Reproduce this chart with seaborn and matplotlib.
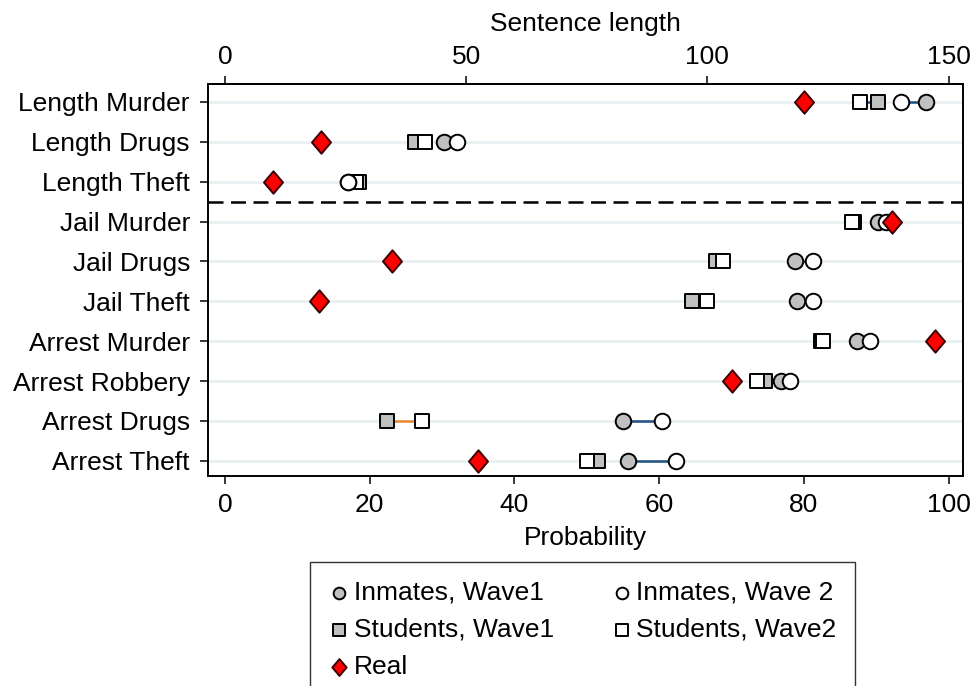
import numpy as np
import pandas as pd
import matplotlib
matplotlib.use("Agg")
import matplotlib.pyplot as plt
import seaborn as sns
from matplotlib.path import Path

# ---------------- data ----------------
rows = ["Length Murder", "Length Drugs", "Length Theft",
        "Jail Murder", "Jail Drugs", "Jail Theft",
        "Arrest Murder", "Arrest Robbery", "Arrest Drugs", "Arrest Theft"]
# first three rows are sentence lengths (top axis), the rest probabilities
n_length_rows = 3
inmates_w1 = [145.4, 45.4, 25.4, 90.3, 78.8, 79.1, 87.4, 76.9, 55.0, 55.7]
inmates_w2 = [140.1, 48.1, 25.5, 91.4, 81.3, 81.3, 89.1, 78.1, 60.4, 62.3]
students_w1 = [135.3, 39.4, 27.8, 86.9, 67.9, 64.6, 82.4, 74.6, 22.4, 51.6]
students_w2 = [131.7, 41.5, 27.2, 86.6, 68.8, 66.6, 82.6, 73.5, 27.2, 50.0]
real = [120.0, 20.0, 10.0, 92.2, 23.1, 13.0, 98.1, 70.1, np.nan, 35.0]
length_ticks = [0, 50, 100, 150]
prob_ticks = [0, 20, 40, 60, 80, 100]
length_max = 150.0
prob_max = 100.0

# ---------------- styling ----------------
sns.set_style("ticks")
plt.rcParams["font.family"] = ["Liberation Sans", "DejaVu Sans"]
plt.rcParams["font.size"] = 19
for k in ["text.color", "axes.labelcolor", "xtick.color", "ytick.color"]:
    plt.rcParams[k] = "black"

NAVY = "#1f4f7e"
ORANGE = "#ea8a2c"
GRAY = "#c0c0c0"
RED = "#ff0000"
GRID = "#e6eef1"

scale = prob_max / length_max


def to_prob(vals):
    out = []
    for i, v in enumerate(vals):
        out.append(v * scale if i < n_length_rows else v)
    return np.array(out, dtype=float)


ypos = np.arange(len(rows))
series = {
    "Inmates, Wave1": to_prob(inmates_w1),
    "Inmates, Wave 2": to_prob(inmates_w2),
    "Students, Wave1": to_prob(students_w1),
    "Students, Wave2": to_prob(students_w2),
    "Real": to_prob(real),
}

fig = plt.figure(figsize=(9.75, 6.86), dpi=100)
ax = fig.add_axes([208 / 975, (686 - 476) / 686, 755 / 975, 392 / 686])

# connecting lines
seg = []
for i in ypos:
    seg.append(dict(row=i, x=series["Inmates, Wave1"][i], y=i, grp="inm"))
    seg.append(dict(row=i, x=series["Inmates, Wave 2"][i], y=i, grp="inm"))
    seg.append(dict(row=i, x=series["Students, Wave1"][i], y=i, grp="stu"))
    seg.append(dict(row=i, x=series["Students, Wave2"][i], y=i, grp="stu"))
seg = pd.DataFrame(seg)
seg["color"] = np.where((seg["grp"] == "stu") & (seg["row"] >= n_length_rows), "s", "n")
seg["uid"] = seg["grp"] + seg["row"].astype(str)
sns.lineplot(data=seg[seg["color"] == "n"], x="x", y="y", units="uid", estimator=None,
             color=NAVY, lw=1.8, ax=ax, legend=False, zorder=2)
sns.lineplot(data=seg[seg["color"] == "s"], x="x", y="y", units="uid", estimator=None,
             color=ORANGE, lw=1.8, ax=ax, legend=False, zorder=2)

diamond = Path([(0, 1), (0.85, 0), (0, -1), (-0.85, 0), (0, 1)],
               [Path.MOVETO, Path.LINETO, Path.LINETO, Path.LINETO, Path.CLOSEPOLY])

specs = [
    ("Students, Wave1", "s", GRAY, 115, 3),
    ("Students, Wave2", "s", "white", 115, 4),
    ("Inmates, Wave1", "o", GRAY, 125, 5),
    ("Inmates, Wave 2", "o", "white", 125, 6),
    ("Real", diamond, RED, 260, 7),
]
for name, mk, fc, s, z in specs:
    vals = series[name]
    m = ~np.isnan(vals)
    sns.scatterplot(x=vals[m], y=ypos[m], marker=mk, color=fc, s=s,
                    edgecolor="black" if name != "Real" else "#3a0000",
                    linewidth=1.4, ax=ax, label=name, zorder=z)

ax.axhline(n_length_rows - 0.5, color="black", lw=1.8, ls=(0, (6, 3)), zorder=1.5)

ax.set_xlim(-2.35, 102.0)
ax.set_ylim(9.38, -0.45)
ax.set_yticks(ypos)
ax.set_yticklabels(rows)
ax.set_xticks(prob_ticks)
ax.set_xlabel("Probability", labelpad=7)
ax.set_ylabel("")
ax.yaxis.grid(True, color=GRID, lw=1.8)
ax.set_axisbelow(True)
for sp in ax.spines.values():
    sp.set_visible(True)
    sp.set_linewidth(1.4)
    sp.set_color("black")
ax.tick_params(axis="x", length=6, width=1.1, color="black", pad=6)
ax.tick_params(axis="y", length=6, width=1.1, color="black", pad=7)

top = ax.secondary_xaxis("top", functions=(lambda x: x / scale, lambda x: x * scale))
top.set_xticks(length_ticks)
top.set_xlabel("Sentence length", labelpad=10)
top.tick_params(length=6, width=1.1, pad=5)
top.spines["top"].set_linewidth(1.4)

handles, labels = ax.get_legend_handles_labels()
ax.get_legend().remove()
order = ["Inmates, Wave1", "Students, Wave1", "Real", "Inmates, Wave 2", "Students, Wave2"]
hmap = dict(zip(labels, handles))
leg = fig.legend([hmap[k] for k in order], order, ncol=2,
                 loc="upper left", bbox_to_anchor=(310 / 975, 0, 545 / 975, (686 - 562) / 686),
                 mode="expand", frameon=True, fancybox=False, edgecolor="black",
                 markerscale=0.75, handlelength=0.8, handletextpad=0.15,
                 labelspacing=0.5, borderpad=0.7, borderaxespad=0, fontsize=19)
leg.get_frame().set_linewidth(1.0)

fig.savefig("out.png", dpi=100)
